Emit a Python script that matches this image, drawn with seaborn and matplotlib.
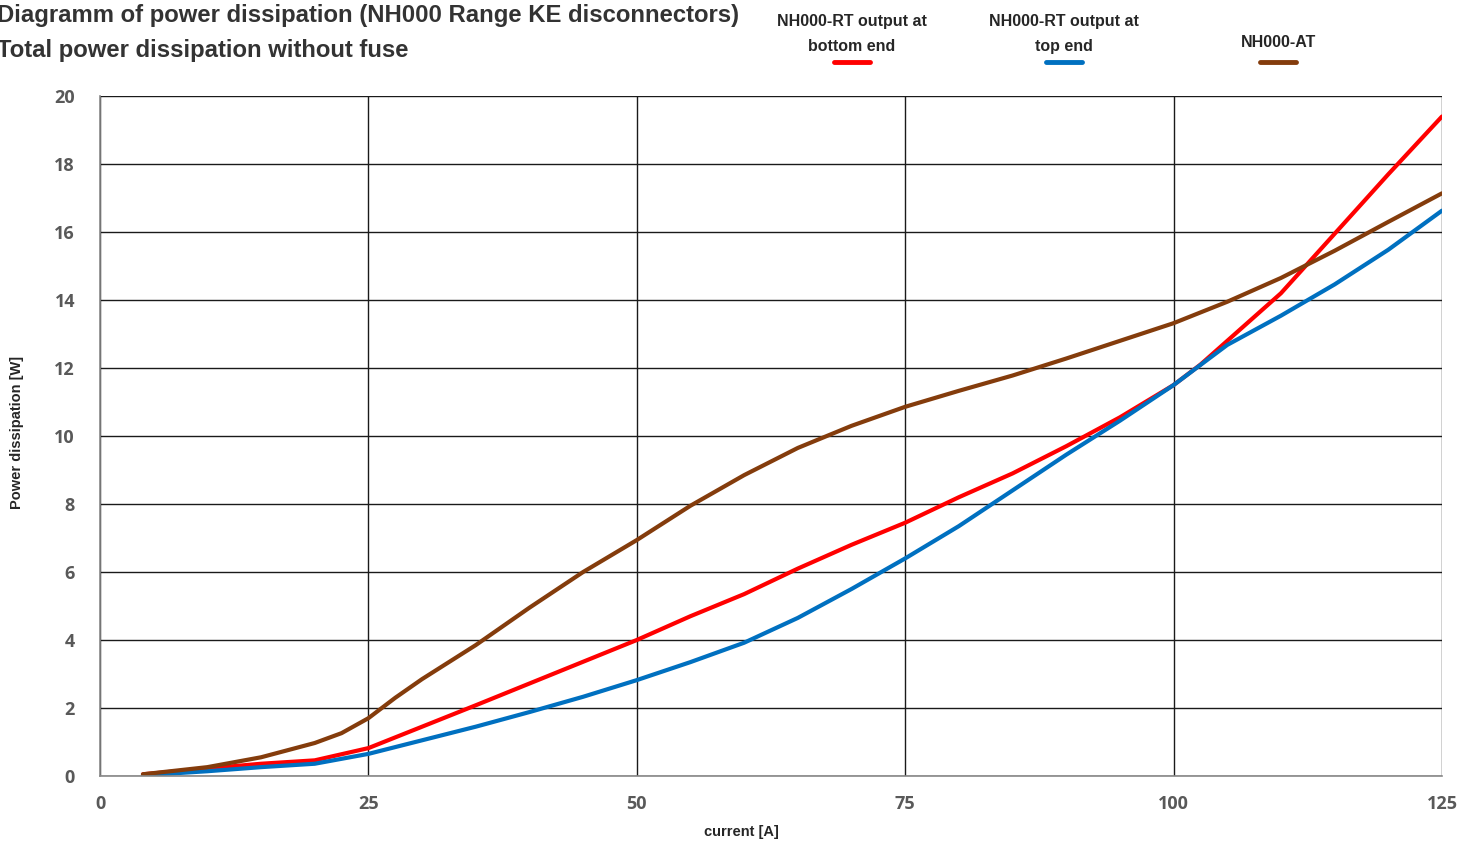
import pandas as pd
import numpy as np
import matplotlib
matplotlib.use("Agg")
import matplotlib.pyplot as plt
from matplotlib.lines import Line2D
import seaborn as sns

# current values [A] and power dissipation [W]
rt_bottom_x = [4, 10, 15, 20, 25, 30, 35, 40, 45, 50, 55, 60, 65, 70, 75, 80, 85, 90, 95,
               100, 102.5, 105, 107.5, 110, 115, 120, 125]
rt_bottom = [0.05, 0.22, 0.36, 0.46, 0.82, 1.45, 2.08, 2.72, 3.36, 4.0, 4.7, 5.35, 6.1,
             6.8, 7.45, 8.2, 8.9, 9.7, 10.55, 11.5, 12.1, 12.8, 13.5, 14.2, 15.95, 17.7, 19.4]

rt_top_x = [4, 10, 15, 20, 25, 30, 35, 40, 45, 50, 55, 60, 65, 70, 75, 80, 85, 90, 95,
            100, 105, 110, 115, 120, 125]
rt_top = [0.02, 0.14, 0.26, 0.36, 0.65, 1.05, 1.45, 1.88, 2.33, 2.82, 3.35, 3.92, 4.65,
          5.5, 6.4, 7.35, 8.4, 9.45, 10.45, 11.5, 12.68, 13.54, 14.46, 15.48, 16.63]

at_x = [4, 10, 15, 20, 22.5, 25, 27.5, 30, 35, 40, 45, 50, 55, 60, 65, 70, 75, 80, 85, 90,
        95, 100, 105, 110, 115, 120, 125]
at = [0.05, 0.26, 0.55, 0.97, 1.26, 1.7, 2.3, 2.85, 3.85, 4.95, 6.0, 6.94, 7.95, 8.85,
      9.65, 10.3, 10.86, 11.33, 11.78, 12.28, 12.8, 13.32, 13.95, 14.65, 15.45, 16.3, 17.14]

labels = ["NH000-RT output at\nbottom end", "NH000-RT output at\ntop end", "NH000-AT"]
colors = ["#FF0000", "#0070C0", "#843C0C"]

df = pd.concat([
    pd.DataFrame({"current": rt_bottom_x, "power": rt_bottom, "series": labels[0]}),
    pd.DataFrame({"current": rt_top_x, "power": rt_top, "series": labels[1]}),
    pd.DataFrame({"current": at_x, "power": at, "series": labels[2]}),
], ignore_index=True)

sns.set_style("white")
plt.rcParams["font.family"] = ["Liberation Sans", "DejaVu Sans"]

fig = plt.figure(figsize=(14.75, 8.43), dpi=100)
ax = fig.add_axes([0.0678, 0.0795, 0.9098, 0.8065])

sns.lineplot(data=df, x="current", y="power", hue="series", palette=colors,
             hue_order=labels, linewidth=3, legend=False, ax=ax)

ax.set_xlim(0, 125)
ax.set_ylim(0, 20)
ax.set_xticks([0, 25, 50, 75, 100, 125])
ax.set_yticks(range(0, 21, 2))
ax.grid(True, color="#1a1a1a", linewidth=1)
ax.set_axisbelow(True)
for side in ["top", "right"]:
    ax.spines[side].set_visible(False)
for side in ["left", "bottom"]:
    ax.spines[side].set_color("#888888")
    ax.spines[side].set_linewidth(1.2)
ax.tick_params(length=0)
ax.tick_params(axis="y", pad=18)
ax.tick_params(axis="x", pad=14)
for lab in ax.get_xticklabels() + ax.get_yticklabels():
    lab.set_fontfamily("Open Sans")
    lab.set_fontweight("bold")
    lab.set_fontsize(13)
    lab.set_color("#595959")

ax.set_xlabel("current [A]", fontsize=10.5, fontweight="bold", color="#262626")
ax.xaxis.set_label_coords(0.478, -0.072)
ax.set_ylabel("Power dissipation [W]", fontsize=10.5, fontweight="bold", color="#262626")
ax.yaxis.set_label_coords(-0.0566, 0.505)

# titles
fig.text(-0.002, 0.982, "Diagramm of power dissipation (NH000 Range KE disconnectors)",
         fontsize=17.2, fontweight="bold", color="#333333", va="center", ha="left")
fig.text(-0.002, 0.940, "Total power dissipation without fuse",
         fontsize=17.2, fontweight="bold", color="#333333", va="center", ha="left")

# legend above the plot: label on top, line sample below
leg_x = [852, 1064, 1278]
for x, lab, col in zip(leg_x, labels, colors):
    fx = x / 1475
    if "\n" in lab:
        fig.text(fx, 0.960, lab, fontsize=11.5, fontweight="bold", color="#262626",
                 ha="center", va="center", linespacing=1.8)
    else:
        fig.text(fx, 0.949, lab, fontsize=11.5, fontweight="bold", color="#262626",
                 ha="center", va="center")
    fig.add_artist(Line2D([fx - 18 / 1475, fx + 18 / 1475], [1 - 62 / 843] * 2,
                          color=col, linewidth=3.5, solid_capstyle="round",
                          transform=fig.transFigure))

fig.savefig("out.png", dpi=100)
